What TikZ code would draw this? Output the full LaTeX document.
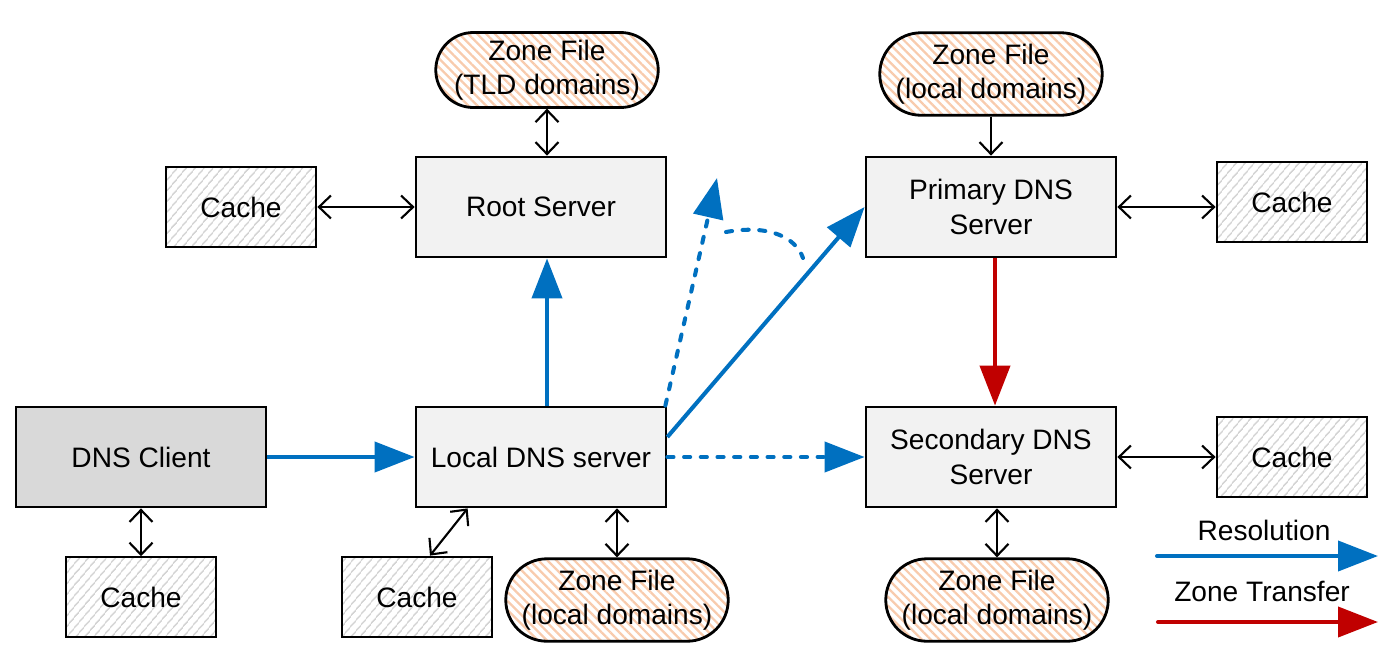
\documentclass[tikz,border=0pt]{standalone}
\usepackage{fontspec}
\setmainfont{Liberation Sans}
\usetikzlibrary{arrows.meta,patterns.meta,shapes.misc}
\definecolor{dnsblue}{RGB}{0,112,192}
\definecolor{dnsred}{RGB}{192,0,0}
\definecolor{boxgray}{RGB}{242,242,242}
\definecolor{clientgray}{RGB}{217,217,217}
\definecolor{hatchgray}{RGB}{212,212,212}
\definecolor{hatchorange}{RGB}{248,203,173}

\begin{document}
\begin{tikzpicture}[x=0.02cm, y=-0.02cm,
    every node/.style={font=\fontsize{16}{19.5}\selectfont, align=center, inner sep=0pt},
    server/.style={draw, line width=1.6pt, fill=boxgray, minimum width=5cm, minimum height=2cm},
    cachebox/.style={draw, line width=1.6pt, minimum width=3cm, minimum height=1.6cm,
        pattern={Lines[angle=50,distance=4pt,line width=0.9pt]}, pattern color=hatchgray},
    zonefile/.style={draw, line width=1.6pt, rounded rectangle, minimum width=4.45cm, minimum height=1.65cm,
        pattern={Lines[angle=-45,distance=3.6pt,line width=1.3pt]}, pattern color=hatchorange},
    link/.style={line width=1.2pt, {Straight Barb[length=0.24cm,width=0.46cm]}-{Straight Barb[length=0.24cm,width=0.46cm]}},
    feed/.style={line width=1.2pt, -{Straight Barb[length=0.24cm,width=0.46cm]}},
    resolve/.style={line width=2.3pt, draw=dnsblue, -{Triangle[length=0.8cm,width=0.6cm]}},
    resolvedash/.style={resolve, dash pattern=on 3.5pt off 6pt, line cap=round},
    transfer/.style={line width=2.3pt, draw=dnsred, -{Triangle[length=0.8cm,width=0.6cm]}}]
    \useasboundingbox (0,0) rectangle (1394,657);

    % servers
    \node[server, fill=clientgray] (client) at (141,457) {DNS Client};
    \node[server] (local) at (541,457) {Local DNS server};
    \node[server] (root) at (541,207) {Root Server};
    \node[server] (primary) at (991,207) {Primary DNS\\Server};
    \node[server] (secondary) at (991,457) {Secondary DNS\\Server};

    % caches
    \node[cachebox] (ccache) at (141,597) {Cache};
    \node[cachebox] (lcache) at (417,597) {Cache};
    \node[cachebox] (rcache) at (241,207) {Cache};
    \node[cachebox] (pcache) at (1292,202) {Cache};
    \node[cachebox] (scache) at (1292,457) {Cache};

    % zone files
    \node[zonefile, minimum height=1.5cm] (tldzone) at (547,70) {Zone File\\(TLD domains)};
    \node[zonefile] (pzone) at (991,74) {Zone File\\(local domains)};
    \node[zonefile] (lzone) at (617,600) {Zone File\\(local domains)};
    \node[zonefile] (szone) at (997,600) {Zone File\\(local domains)};

    % cache and zone file links
    \draw[link] (client.south) -- (ccache.north);
    \draw[link] ([xshift=1.06cm]local.south west) -- ([xshift=0.26cm]lcache.north);
    \draw[link] (lzone.north |- local.south) -- (lzone.north);
    \draw[link] (rcache.east) -- (root.west);
    \draw[link] (tldzone.south) -- (tldzone.south |- root.north);
    \draw[feed] (pzone.south) -- (primary.north);
    \draw[link] (primary.east) -- (primary.east -| pcache.west);
    \draw[link] (secondary.east) -- (scache.west);
    \draw[link] (szone.north |- secondary.south) -- (szone.north);

    % resolution
    \draw[resolve] (client.east) -- (local.west);
    \draw[resolve] ([xshift=0.12cm]local.north) -- ([xshift=0.12cm]root.south);
    \draw[resolve] ([yshift=0.4cm]local.east) -- (primary.west);
    \draw[resolvedash] (local.east) -- (secondary.west);
    \coordinate (iter) at (717,178);
    \draw[resolvedash] ([xshift=-0.04cm]local.north east) -- (iter);
    \draw[dnsblue, line width=2.3pt, dash pattern=on 3.5pt off 6pt, line cap=round]
        (726,232) .. controls (770,224) and (796,238) .. (803,258);

    % zone transfer
    \draw[transfer] ([xshift=0.08cm]primary.south) -- ([xshift=0.08cm]secondary.north);

    % legend
    \node (reslabel) at (1264,530) {Resolution};
    \coordinate (resA) at (1157,556);
    \coordinate (resB) at (1378,556);
    \draw[resolve, line cap=round] (resA) -- (resB);
    \node (xferlabel) at (1262,591) {Zone Transfer};
    \coordinate (xferA) at (1158,622);
    \coordinate (xferB) at (1378,622);
    \draw[transfer, line cap=round] (xferA) -- (xferB);
\end{tikzpicture}
\end{document}
